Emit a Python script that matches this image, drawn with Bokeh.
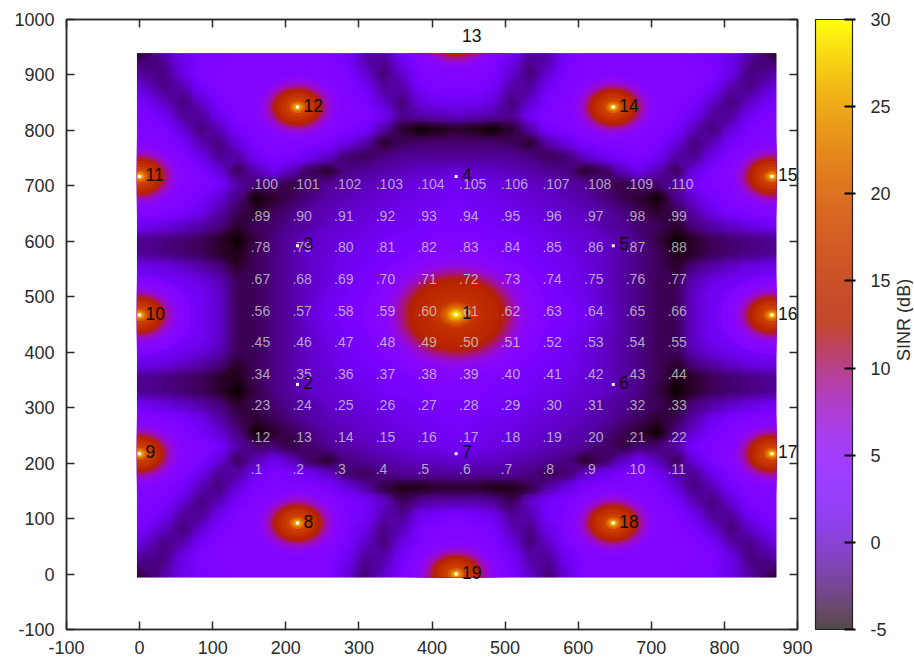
import numpy as np
from bokeh.core.properties import value
from bokeh.embed import file_html
from bokeh.layouts import row
from bokeh.models import (ColorBar, ColumnDataSource, FixedTicker, LinearAxis,
                          LinearColorMapper, Range1d)
from bokeh.plotting import figure
from bokeh.resources import INLINE
from bokeh.transform import transform

FONT = "Liberation Sans"

# SINR (dB), top row first, on a coarse regular grid
sinr_rows = [
 [-4,-1,1.5,3,3.5,3.8,3.8,3.8,3.8,3.8,3.8,2.3,-1.1,-1.4,2.1,3.8,4,5,4,3.8,2.1,-1.4,-1.1,2.3,3.8,3.8,3.8,3.8,3.8,3.8,3.5,3,1.5,-1,-4],
 [-1,-2,1.2,3.5,3.8,3.8,3.8,3.8,3.8,3.8,3.8,3.3,0.5,-2.4,0.3,3.3,3.8,4,3.8,3.3,0.3,-2.4,0.5,3.3,3.8,3.8,3.8,3.8,3.8,3.8,3.8,3.5,1.2,-2,-1],
 [1,-1.9,-0.8,2.3,3.8,3.8,3.8,3.8,3.8,3.8,3.8,3.8,2.1,-1.3,-1.1,2.3,3.5,3.5,3.5,2.3,-1.1,-1.3,2.1,3.8,3.8,3.8,3.8,3.8,3.8,3.8,3.8,2.3,-0.8,-1.9,1],
 [2.8,-0.2,-2.3,0.3,3,3.8,3.8,3.8,3.8,3.8,3.8,3.8,3.1,0.1,-2.3,0.8,2,2,2,0.8,-2.3,0.1,3.1,3.8,3.8,3.8,3.8,3.8,3.8,3.8,3,0.3,-2.3,-0.2,2.8],
 [3.8,1.8,-1.4,-1.4,1.6,3.8,3.8,3.8,3.8,3.8,3.8,3.8,3.8,1.9,-1.6,-1,-0.5,0,-0.5,-1,-1.6,1.9,3.8,3.8,3.8,3.8,3.8,3.8,3.8,3.8,1.6,-1.4,-1.4,1.8,3.8],
 [3.8,3.3,0.5,-2.2,-0.5,2.7,3.8,3.8,3.8,3.8,3.8,3.5,2.5,-1,-4,-5,-4.5,-4,-4.5,-5,-4,-1,2.5,3.5,3.8,3.8,3.8,3.8,3.8,2.7,-0.5,-2.2,0.5,3.3,3.8],
 [3.8,3.8,2.5,-0.6,-2.2,0.8,3.3,3.8,3.8,3.8,3,1,-1,-4,-3,-2.5,-2.5,-2.5,-2.5,-2.5,-3,-4,-1,1,3,3.8,3.8,3.8,3.3,0.8,-2.2,-0.6,2.5,3.8,3.8],
 [4,3.8,3.8,1.4,-1.6,-1.1,1.9,3.5,3,1.5,0,-2.5,-3,-2,-1.5,-1.5,-1.5,-1.5,-1.5,-1.5,-1.5,-2,-3,-2.5,0,1.5,3,3.5,1.9,-1.1,-1.6,1.4,3.8,3.8,4],
 [7,4,4,3.3,0.8,-3,-0.5,1.5,-0.5,-3,-4,-2,-1.5,-1,-0.5,0,0,0.5,0,0,-0.5,-1,-1.5,-2,-4,-3,-0.5,1.5,-0.5,-3,0.8,3.3,4,4,7],
 [8,5,4,3.8,2.6,-1,-2.5,-2.5,-3.5,-2.5,-1.5,-1,-0.5,0,0.5,1,1.5,2,1.5,1,0.5,0,-0.5,-1,-1.5,-2.5,-3.5,-2.5,-2.5,-1,2.6,3.8,4,5,8],
 [7,4,3.8,2.5,0.5,-2,-5,-4,-3,-2,-1,-0.5,0,0.5,1,1.5,2,2.5,2,1.5,1,0.5,0,-0.5,-1,-2,-3,-4,-5,-2,0.5,2.5,3.8,4,7],
 [5,3.8,3,1.5,-1,-3,-4,-3,-2,-1,-0.5,0,0.5,1,1.5,2,2.5,3,2.5,2,1.5,1,0.5,0,-0.5,-1,-2,-3,-4,-3,-1,1.5,3,3.8,5],
 [2,1,0,-1,-2,-4,-3,-2.5,-1.5,-1,0,0.5,1,1.5,2,2.5,3,3,3,2.5,2,1.5,1,0.5,0,-1,-1.5,-2.5,-3,-4,-2,-1,0,1,2],
 [-1.5,-2,-2.5,-3,-4,-5,-3.5,-2,-1,0,0.5,1,1.5,2.5,3,3,3.5,3.5,3.5,3,3,2.5,1.5,1,0.5,0,-1,-2,-3.5,-5,-4,-3,-2.5,-2,-1.5],
 [-1.5,-2,-2.5,-3,-4,-4.5,-3,-2,-1,0,0.5,1.5,2,2.5,3,3.5,3.8,3.8,3.8,3.5,3,2.5,2,1.5,0.5,0,-1,-2,-3,-4.5,-4,-3,-2.5,-2,-1.5],
 [1.5,1,0,-1,-2,-4,-3,-2,-1,0,1,2,2.5,3,3.5,3.8,4,4,4,3.8,3.5,3,2.5,2,1,0,-1,-2,-3,-4,-2,-1,0,1,1.5],
 [3,2.5,2,1,-0.5,-3,-3,-2,-1,0,1,2,3,3.5,3.8,4,4.5,4.5,4.5,4,3.8,3.5,3,2,1,0,-1,-2,-3,-3,-0.5,1,2,2.5,3],
 [3.8,3.5,3,2,0,-3,-3,-2,-1,0,1.5,2.5,3,3.8,4,4.5,4.5,4.5,4.5,4.5,4,3.8,3,2.5,1.5,0,-1,-2,-3,-3,0,2,3,3.5,3.8],
 [4.5,3.8,3.5,2,0,-3,-3,-2,-1,0.5,2,3,3.5,3.8,4,4.5,4.5,4.5,4.5,4.5,4,3.8,3.5,3,2,0.5,-1,-2,-3,-3,0,2,3.5,3.8,4.5],
 [4.5,3.8,3.5,2,0,-3,-3,-2,-1,0.5,2,3,3.5,3.8,4,4.5,4.5,4.5,4.5,4.5,4,3.8,3.5,3,2,0.5,-1,-2,-3,-3,0,2,3.5,3.8,4.5],
 [3.8,3.5,3,2,0,-3,-3,-2,-1,0,1.5,2.5,3,3.8,4,4.5,4.5,4.5,4.5,4.5,4,3.8,3,2.5,1.5,0,-1,-2,-3,-3,0,2,3,3.5,3.8],
 [3,2.5,2,1,-0.5,-3,-3,-2,-1,0,1,2,3,3.5,3.8,4,4.5,4.5,4.5,4,3.8,3.5,3,2,1,0,-1,-2,-3,-3,-0.5,1,2,2.5,3],
 [1.5,1,0,-1,-2,-4,-3,-2,-1,0,1,2,2.5,3,3.5,3.8,4,4,4,3.8,3.5,3,2.5,2,1,0,-1,-2,-3,-4,-2,-1,0,1,1.5],
 [-1.5,-2,-2.5,-3,-4,-4.5,-3,-2,-1,0,0.5,1.5,2,2.5,3,3.5,3.8,3.8,3.8,3.5,3,2.5,2,1.5,0.5,0,-1,-2,-3,-4.5,-4,-3,-2.5,-2,-1.5],
 [-1.5,-2,-2.5,-3,-4,-5,-3.5,-2,-1,0,0.5,1,1.5,2.5,3,3,3.5,3.5,3.5,3,3,2.5,1.5,1,0.5,0,-1,-2,-3.5,-5,-4,-3,-2.5,-2,-1.5],
 [2,1,0,-1,-2,-4,-3,-2.5,-1.5,-1,0,0.5,1,1.5,2,2.5,3,3,3,2.5,2,1.5,1,0.5,0,-1,-1.5,-2.5,-3,-4,-2,-1,0,1,2],
 [5,3.8,3,1.5,-1,-3,-4,-3,-2,-1,-0.5,0,0.5,1,1.5,2,2.5,3,2.5,2,1.5,1,0.5,0,-0.5,-1,-2,-3,-4,-3,-1,1.5,3,3.8,5],
 [7,4,3.8,2.5,0.5,-2,-5,-4,-3,-2,-1,-0.5,0,0.5,1,1.5,2,2.5,2,1.5,1,0.5,0,-0.5,-1,-2,-3,-4,-5,-2,0.5,2.5,3.8,4,7],
 [8,5,4,3.8,2.6,-1,-2.5,-2.5,-3.5,-2.5,-1.5,-1,-0.5,0,0.5,1,1.5,2,1.5,1,0.5,0,-0.5,-1,-1.5,-2.5,-3.5,-2.5,-2.5,-1,2.6,3.8,4,5,8],
 [7,4,4,3.3,0.8,-3,-0.5,1.5,-0.5,-3,-4,-2,-1.5,-1,-0.5,0,0,0.5,0,0,-0.5,-1,-1.5,-2,-4,-3,-0.5,1.5,-0.5,-3,0.8,3.3,4,4,7],
 [4,3.8,3.8,1.4,-1.6,-1.1,1.9,3.5,3,1.5,0,-2.5,-3,-2,-1.5,-1.5,-1.5,-1.5,-1.5,-1.5,-1.5,-2,-3,-2.5,0,1.5,3,3.5,1.9,-1.1,-1.6,1.4,3.8,3.8,4],
 [3.8,3.8,2.5,-0.6,-2.2,0.8,3.3,3.8,3.8,3.8,3,1,-1,-3.5,-4.5,-4.5,-4,-4,-4,-4.5,-4.5,-3.5,-1,1,3,3.8,3.8,3.8,3.3,0.8,-2.2,-0.6,2.5,3.8,3.8],
 [3.8,3.3,0.5,-2.2,-0.5,2.7,3.8,3.8,3.8,3.8,3.8,3.5,2.5,0,-3,-1.5,-1,-1,-1,-1.5,-3,0,2.5,3.5,3.8,3.8,3.8,3.8,3.8,2.7,-0.5,-2.2,0.5,3.3,3.8],
 [3.8,1.8,-1.4,-1.4,1.6,3.8,3.8,3.8,3.8,3.8,3.8,3,2.5,-0.8,-1.6,1.6,2.5,3,2.5,1.6,-1.6,-0.8,2.5,3,3.8,3.8,3.8,3.8,3.8,3.8,1.6,-1.4,-1.4,1.8,3.8],
 [2.8,-0.2,-2.3,0.3,3,3.8,3.8,3.8,3.8,3.8,3.8,3,1.4,-2,-0.4,2.8,3.8,4,3.8,2.8,-0.4,-2,1.4,3,3.8,3.8,3.8,3.8,3.8,3.8,3,0.3,-2.3,-0.2,2.8],
 [1,-1.9,-0.8,2.3,3.8,3.8,3.8,3.8,3.8,3.8,3.8,3,0,-2.3,1,3.5,4,5,4,3.5,1,-2.3,0,3,3.8,3.8,3.8,3.8,3.8,3.8,3.8,2.3,-0.8,-1.9,1],
 [-1,-2,1.2,3.5,3.8,3.8,3.8,3.8,3.8,3.8,3.8,1.9,-1.4,-1.1,2.5,3.8,4,5,4,3.8,2.5,-1.1,-1.4,1.9,3.8,3.8,3.8,3.8,3.8,3.8,3.8,3.5,1.2,-2,-1],
 [-4,-1,1.5,3,3.5,3.8,3.8,3.8,3.8,3.8,3.8,0.5,-2.5,0.1,3.1,3.8,4,5,4,3.8,3.1,0.1,-2.5,0.5,3.8,3.8,3.8,3.8,3.8,3.8,3.5,3,1.5,-1,-4],
]

# extent of the map, axis coordinates
map_x0, map_x1 = -3.6, 871.0
map_y0, map_y1 = -6.0, 939.0

# base stations
cell_names = [str(i) for i in range(1, 20)]
cell_x = [433, 216, 216, 433, 648, 648, 433, 216, 0, 0, 0, 216, 433, 648, 865, 865, 865, 648, 433]
cell_y = [468, 342, 592, 717, 592, 342, 217, 92, 217, 467, 717, 842, 967, 842, 717, 467, 217, 92, 0]

# users / label grid
ue_x = [152, 209, 266, 323, 380, 437, 494, 551, 608, 665, 722]
ue_y = [190, 247, 304, 361, 418, 475, 532, 589, 646, 703]

# radial SINR around the transmitting stations (distance, dB)
outer_r = [70, 60, 54, 50, 46, 42, 38, 35, 32, 28, 23, 17, 11, 8, 6, 4, 2.5, 1.5]
outer_db = [4, 4.5, 5, 6, 7, 8, 9.5, 11, 12.5, 14, 15.5, 17, 20, 22, 24, 26, 28, 30]
centre_r = [125, 112, 103, 95, 88, 82, 76, 70, 65, 58, 50, 42, 34, 27, 22, 18, 14, 11, 8, 5, 2]
centre_db = [4, 4.5, 5, 6, 7, 8.5, 10, 11.5, 12.5, 13.5, 14, 14.5, 15, 16, 18, 20, 22, 24, 26.5, 28.5, 30]
active_outer = ["8", "9", "10", "11", "12", "13", "14", "15", "16", "17", "18", "19"]

cb_ticks = [-5, 0, 5, 10, 15, 20, 25, 30]
x_ticks = [-100, 0, 100, 200, 300, 400, 500, 600, 700, 800, 900]
y_ticks = [-100, 0, 100, 200, 300, 400, 500, 600, 700, 800, 900, 1000]


def gnu(t):
    return np.stack([np.sqrt(t), t ** 3, np.clip(np.sin(2 * np.pi * t), 0, 1)], axis=-1)


def hexes(rgb):
    rgb = np.clip(rgb, 0, 1)
    return ["#%02x%02x%02x" % tuple(int(round(c * 255)) for c in row) for row in rgb]


t = np.linspace(0, 1, 256)
base = gnu(t)
lift = (0.29 - 0.23 * t)[:, None]
map_palette = hexes(base)
bar_palette = hexes(base + lift * (1 - base))

mapper = LinearColorMapper(palette=map_palette, low=-5, high=30)
bar_mapper = LinearColorMapper(palette=bar_palette, low=-5, high=30)

INK = "#2a2a2a"
p = figure(frame_width=731, frame_height=610, x_range=Range1d(-100, 900), y_range=Range1d(-100, 1000),
           toolbar_location=None, output_backend="svg",
           min_border_left=66, min_border_top=19, min_border_bottom=31, min_border_right=92)
p.background_fill_color = "white"
p.grid.visible = False
p.outline_line_color = INK
p.outline_line_width = 1.5

grid = np.array(sinr_rows, dtype=float)[::-1]
p.image(image=[grid], x=map_x0, y=map_y0, dw=map_x1 - map_x0, dh=map_y1 - map_y0, color_mapper=mapper)

# the read values shaded by Bokeh's own filled contours; outer nodes sit on the map edge
ny, nx = grid.shape
gx = map_x0 + (np.arange(nx) + 0.5) * (map_x1 - map_x0) / nx
gy = map_y0 + (np.arange(ny) + 0.5) * (map_y1 - map_y0) / ny
gx[0], gx[-1] = map_x0, map_x1
gy[0], gy[-1] = map_y0, map_y1
levels = np.arange(-5.5, 12.01, 0.25)
mid = (levels[:-1] + levels[1:]) / 2
p.contour(gx, gy, grid, levels, fill_color=hexes(gnu(np.clip((mid + 5) / 35, 0, 1))), line_color=None)

# hot spots as stacked discs, clipped to the map
theta = np.linspace(0, 2 * np.pi, 90)
xs, ys, vs = [], [], []


def add_spot(cx, cy, radii, dbs):
    for r, v in zip(radii, dbs):
        xs.append(np.clip(cx + r * np.cos(theta), map_x0, map_x1))
        ys.append(np.clip(cy + r * np.sin(theta), map_y0, map_y1))
        vs.append(v)


for name in active_outer:
    i = cell_names.index(name)
    add_spot(cell_x[i], cell_y[i], outer_r, outer_db)
add_spot(cell_x[0], cell_y[0], centre_r, centre_db)
p.patches("xs", "ys", source=ColumnDataSource(dict(xs=xs, ys=ys, v=vs)),
          fill_color=transform("v", mapper), line_color=None)

# users
ux, uy, ut = [], [], []
n = 1
for yy in ue_y:
    for xx in ue_x:
        ux.append(xx); uy.append(yy); ut.append(f".{n}")
        n += 1
p.text(ux, uy, text=ut, text_font=value(FONT), text_font_size="14px", text_color="#dcdcdc",
       text_alpha=0.75, text_align="left", text_baseline="middle")

# stations
p.scatter(cell_x, cell_y, marker="square", size=3, color="white", line_color=None)
p.text(cell_x, cell_y, text=cell_names, text_font=value(FONT), text_font_size="17.5px", text_color="#111111",
       text_align="left", text_baseline="middle", x_offset=6, y_offset=-2)

for ax in (p.xaxis[0], p.yaxis[0]):
    ax.major_tick_in = 8
    ax.major_tick_out = 0
    ax.minor_tick_in = 0
    ax.minor_tick_out = 0
    ax.axis_line_color = INK
    ax.axis_line_width = 1.5
    ax.major_tick_line_color = INK
    ax.major_tick_line_width = 1.5
    ax.major_label_text_font = FONT
    ax.major_label_text_font_size = "18px"
    ax.major_label_text_color = INK
p.xaxis[0].ticker = FixedTicker(ticks=x_ticks)
p.yaxis[0].ticker = FixedTicker(ticks=y_ticks)
p.xaxis[0].major_label_standoff = 11
p.yaxis[0].major_label_standoff = 12
p.xaxis[0].major_label_overrides = {-100: "-100"}
p.yaxis[0].major_label_overrides = {-100: "-100"}

for side, ticks in (("above", x_ticks), ("right", y_ticks)):
    a = LinearAxis(ticker=FixedTicker(ticks=ticks), major_label_overrides={k: "" for k in ticks},
                   major_label_text_font_size="1px", major_label_standoff=0,
                   major_tick_in=8, major_tick_out=0, minor_tick_in=0, minor_tick_out=0,
                   axis_line_color=INK, axis_line_width=1.5, major_tick_line_color=INK, major_tick_line_width=1.5)
    p.add_layout(a, side)

cb = ColorBar(color_mapper=bar_mapper, ticker=FixedTicker(ticks=cb_ticks), width=37, height=610,
              padding=0, margin=0, location=(18, 0), major_tick_in=8, major_tick_out=3, minor_tick_in=0, minor_tick_out=0,
              major_tick_line_color="black", major_tick_line_width=2, bar_line_color="#222222", bar_line_width=1.2,
              major_label_text_font=FONT, major_label_text_font_size="18px", major_label_text_color=INK,
              major_label_overrides={-5: "-5"}, label_standoff=15)
p.add_layout(cb, "right")

# the colour bar's title, in a narrow plot of its own beside the main one
q = figure(width=20, height=660, x_range=Range1d(0, 1), y_range=Range1d(0, 660), toolbar_location=None,
           output_backend="svg", min_border=0, outline_line_color=None)
q.axis.visible = False
q.grid.visible = False
q.text([0.5], [335], text=["SINR (dB)"], angle=90, angle_units="deg", text_font=value(FONT),
       text_font_size="18px", text_color=INK, text_align="center", text_baseline="middle")

open("out.html", "w").write(file_html(row(p, q), INLINE))
